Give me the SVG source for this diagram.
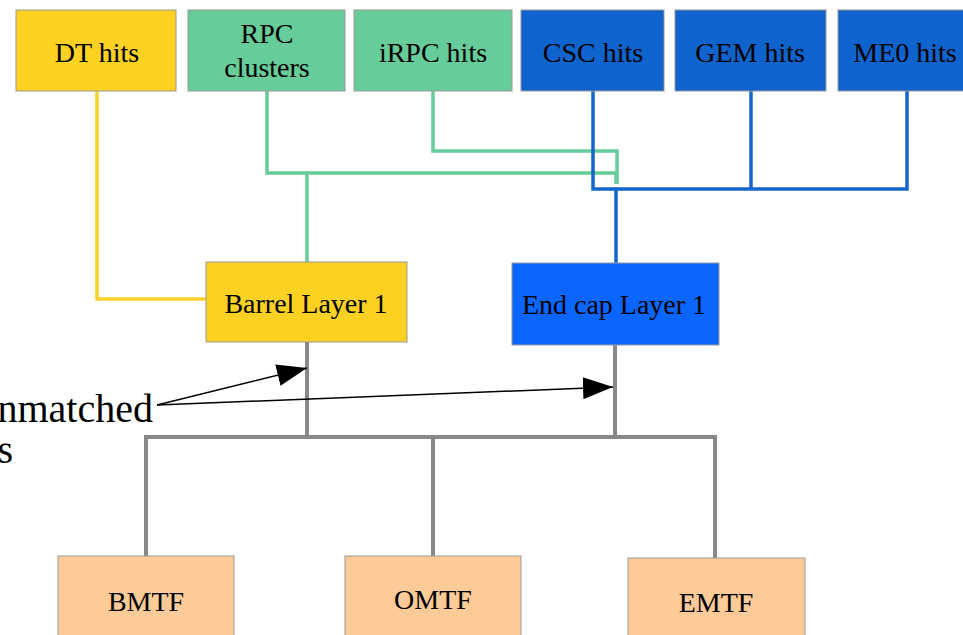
<svg xmlns="http://www.w3.org/2000/svg" width="963" height="635" viewBox="0 0 963 635">
<defs>
<style>
.box{stroke:#9a9a9a;stroke-width:1}
.yel{fill:#FCD122}
.grn{fill:#66CC99}
.blu{fill:#0F63CC}
.eblu{fill:#0A66FF}
.org{fill:#FDCB98}
text{font-family:"Liberation Serif","Times New Roman",serif;font-size:28px;fill:#000;text-anchor:middle}
.c{fill:none;stroke-width:3.5;stroke-linejoin:miter}
.cy{stroke:#FCD12A}
.cg{stroke:#66CC99}
.cb{stroke:#1466CC}
.cgr{stroke:#888888;stroke-width:4}
.ann{fill:none;stroke:#000;stroke-width:1.5}
</style>
<marker id="ah" markerWidth="30" markerHeight="22" refX="30" refY="11" orient="auto" markerUnits="userSpaceOnUse">
<path d="M0,0 L30,11 L0,22 Z" fill="#000"/>
</marker>
</defs>
<rect width="963" height="635" fill="#fff"/>
<g id="connectors">
<path class="c cy" d="M97,91 V299 H206"/>
<path class="c cg" d="M267,91 V173 H616 V184"/>
<path class="c cg" d="M433,91 V151 H617 V184"/>
<path class="c cg" d="M307,173 V262"/>
<path class="c cb" d="M593,91 V189 H907 V91"/>
<path class="c cb" d="M751,91 V189"/>
<path class="c cb" d="M616,189 V263"/>
<path class="c cgr" d="M307,342 V437"/>
<path class="c cgr" d="M615,345 V437"/>
<path class="c cgr" d="M146,556 V437 H715 V558"/>
<path class="c cgr" d="M433,437 V556"/>
<path class="ann" d="M157,405 L307,368" marker-end="url(#ah)"/>
<path class="ann" d="M157,405 L613,387" marker-end="url(#ah)"/>
</g>
<g id="dt"><rect class="box yel" x="16" y="10" width="160" height="81"/><text x="97" y="62">DT hits</text></g>
<g id="rpc"><rect class="box grn" x="188" y="10" width="157" height="81"/><text x="267" y="43">RPC</text><text x="267" y="77">clusters</text></g>
<g id="irpc"><rect class="box grn" x="354" y="10" width="158" height="81"/><text x="433" y="62">iRPC hits</text></g>
<g id="csc"><rect class="box blu" x="521" y="10" width="143" height="81"/><text x="593" y="62">CSC hits</text></g>
<g id="gem"><rect class="box blu" x="675" y="10" width="151" height="81"/><text x="750" y="62">GEM hits</text></g>
<g id="me0"><rect class="box blu" x="838" y="10" width="140" height="81"/><text x="905" y="62">ME0 hits</text></g>
<g id="barrel"><rect class="box yel" x="206" y="262" width="201" height="80"/><text x="306" y="313">Barrel Layer 1</text></g>
<g id="endcap"><rect class="box eblu" x="512" y="263" width="207" height="82"/><text x="614" y="314">End cap Layer 1</text></g>
<g id="bmtf"><rect class="box org" x="58" y="556" width="176" height="90"/><text x="146" y="611">BMTF</text></g>
<g id="omtf"><rect class="box org" x="345" y="556" width="176" height="90"/><text x="433" y="609">OMTF</text></g>
<g id="emtf"><rect class="box org" x="628" y="558" width="177" height="90"/><text x="716" y="612">EMTF</text></g>
<g id="label">
<text x="153" y="422" style="font-size:40px;text-anchor:end">nmatched</text>
<text x="13" y="463" style="font-size:40px;text-anchor:end">s</text>
</g>
</svg>
